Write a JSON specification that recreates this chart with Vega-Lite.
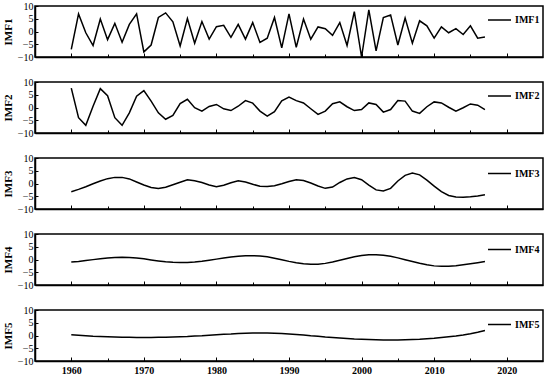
{
  "$schema": "https://vega.github.io/schema/vega-lite/v6.json",
  "padding": {"left": 1, "top": 0, "right": 7, "bottom": 0},
  "autosize": {"type": "pad"},
  "background": "white",
  "bounds": "flush",
  "data": {"values": [
    {"year": 1960, "IMF1": -7.0, "IMF2": 7.6, "IMF3": -3.2, "IMF4": -1.0, "IMF5": 0.3},
    {"year": 1961, "IMF1": 6.9, "IMF2": -4.0, "IMF3": -2.3, "IMF4": -0.75, "IMF5": 0.1},
    {"year": 1962, "IMF1": -0.5, "IMF2": -7.0, "IMF3": -1.3, "IMF4": -0.4, "IMF5": -0.1},
    {"year": 1963, "IMF1": -5.5, "IMF2": 0.5, "IMF3": -0.1, "IMF4": -0.05, "IMF5": -0.3},
    {"year": 1964, "IMF1": 4.9, "IMF2": 7.4, "IMF3": 1.0, "IMF4": 0.3, "IMF5": -0.4},
    {"year": 1965, "IMF1": -3.2, "IMF2": 4.6, "IMF3": 1.9, "IMF4": 0.6, "IMF5": -0.5},
    {"year": 1966, "IMF1": 3.2, "IMF2": -4.0, "IMF3": 2.4, "IMF4": 0.82, "IMF5": -0.6},
    {"year": 1967, "IMF1": -4.2, "IMF2": -7.0, "IMF3": 2.4, "IMF4": 0.9, "IMF5": -0.7},
    {"year": 1968, "IMF1": 2.8, "IMF2": -2.1, "IMF3": 1.8, "IMF4": 0.82, "IMF5": -0.7},
    {"year": 1969, "IMF1": 6.9, "IMF2": 4.4, "IMF3": 0.6, "IMF4": 0.59, "IMF5": -0.8},
    {"year": 1970, "IMF1": -8.0, "IMF2": 6.6, "IMF3": -0.6, "IMF4": 0.25, "IMF5": -0.8},
    {"year": 1971, "IMF1": -5.3, "IMF2": 2.5, "IMF3": -1.6, "IMF4": -0.15, "IMF5": -0.8},
    {"year": 1972, "IMF1": 5.5, "IMF2": -2.1, "IMF3": -2.0, "IMF4": -0.55, "IMF5": -0.7},
    {"year": 1973, "IMF1": 7.3, "IMF2": -4.6, "IMF3": -1.5, "IMF4": -0.89, "IMF5": -0.7},
    {"year": 1974, "IMF1": 3.8, "IMF2": -3.1, "IMF3": -0.5, "IMF4": -1.12, "IMF5": -0.6},
    {"year": 1975, "IMF1": -5.7, "IMF2": 1.5, "IMF3": 0.5, "IMF4": -1.2, "IMF5": -0.5},
    {"year": 1976, "IMF1": 5.1, "IMF2": 3.2, "IMF3": 1.5, "IMF4": -1.13, "IMF5": -0.4},
    {"year": 1977, "IMF1": -4.6, "IMF2": -0.1, "IMF3": 1.1, "IMF4": -0.94, "IMF5": -0.2},
    {"year": 1978, "IMF1": 3.9, "IMF2": -1.4, "IMF3": 0.4, "IMF4": -0.64, "IMF5": -0.1},
    {"year": 1979, "IMF1": -3.0, "IMF2": 0.4, "IMF3": -0.6, "IMF4": -0.27, "IMF5": 0.1},
    {"year": 1980, "IMF1": 1.9, "IMF2": 1.2, "IMF3": -1.3, "IMF4": 0.15, "IMF5": 0.3},
    {"year": 1981, "IMF1": 2.4, "IMF2": -0.5, "IMF3": -0.7, "IMF4": 0.57, "IMF5": 0.5},
    {"year": 1982, "IMF1": -2.3, "IMF2": -1.2, "IMF3": 0.3, "IMF4": 0.94, "IMF5": 0.6},
    {"year": 1983, "IMF1": 2.8, "IMF2": 0.5, "IMF3": 1.1, "IMF4": 1.24, "IMF5": 0.8},
    {"year": 1984, "IMF1": -3.0, "IMF2": 2.7, "IMF3": 0.6, "IMF4": 1.43, "IMF5": 0.9},
    {"year": 1985, "IMF1": 3.5, "IMF2": 1.7, "IMF3": -0.3, "IMF4": 1.5, "IMF5": 1.0},
    {"year": 1986, "IMF1": -4.3, "IMF2": -1.4, "IMF3": -1.1, "IMF4": 1.38, "IMF5": 1.0},
    {"year": 1987, "IMF1": -2.6, "IMF2": -3.4, "IMF3": -1.2, "IMF4": 1.04, "IMF5": 1.0},
    {"year": 1988, "IMF1": 5.5, "IMF2": -1.6, "IMF3": -0.9, "IMF4": 0.52, "IMF5": 0.9},
    {"year": 1989, "IMF1": -6.4, "IMF2": 2.6, "IMF3": -0.1, "IMF4": -0.1, "IMF5": 0.8},
    {"year": 1990, "IMF1": 6.9, "IMF2": 4.1, "IMF3": 0.8, "IMF4": -0.74, "IMF5": 0.6},
    {"year": 1991, "IMF1": -6.2, "IMF2": 2.7, "IMF3": 1.5, "IMF4": -1.3, "IMF5": 0.4},
    {"year": 1992, "IMF1": 4.9, "IMF2": 1.8, "IMF3": 1.2, "IMF4": -1.7, "IMF5": 0.2},
    {"year": 1993, "IMF1": -3.0, "IMF2": -0.5, "IMF3": 0.2, "IMF4": -1.89, "IMF5": -0.1},
    {"year": 1994, "IMF1": 1.8, "IMF2": -2.7, "IMF3": -1.0, "IMF4": -1.83, "IMF5": -0.3},
    {"year": 1995, "IMF1": 1.1, "IMF2": -1.4, "IMF3": -1.9, "IMF4": -1.52, "IMF5": -0.6},
    {"year": 1996, "IMF1": -1.5, "IMF2": 1.5, "IMF3": -1.4, "IMF4": -0.99, "IMF5": -0.8},
    {"year": 1997, "IMF1": 3.5, "IMF2": 2.2, "IMF3": 0.4, "IMF4": -0.32, "IMF5": -1.0},
    {"year": 1998, "IMF1": -5.5, "IMF2": 0.3, "IMF3": 1.8, "IMF4": 0.39, "IMF5": -1.2},
    {"year": 1999, "IMF1": 7.8, "IMF2": -1.2, "IMF3": 2.3, "IMF4": 1.05, "IMF5": -1.4},
    {"year": 2000, "IMF1": -10.0, "IMF2": -0.8, "IMF3": 1.5, "IMF4": 1.56, "IMF5": -1.5},
    {"year": 2001, "IMF1": 8.5, "IMF2": 1.8, "IMF3": -0.6, "IMF4": 1.85, "IMF5": -1.6},
    {"year": 2002, "IMF1": -7.6, "IMF2": 1.2, "IMF3": -2.5, "IMF4": 1.88, "IMF5": -1.7},
    {"year": 2003, "IMF1": 5.5, "IMF2": -1.8, "IMF3": -2.9, "IMF4": 1.67, "IMF5": -1.8},
    {"year": 2004, "IMF1": 6.5, "IMF2": -0.8, "IMF3": -1.9, "IMF4": 1.24, "IMF5": -1.8},
    {"year": 2005, "IMF1": -5.3, "IMF2": 2.7, "IMF3": 1.0, "IMF4": 0.64, "IMF5": -1.8},
    {"year": 2006, "IMF1": 5.3, "IMF2": 2.5, "IMF3": 3.2, "IMF4": -0.07, "IMF5": -1.7},
    {"year": 2007, "IMF1": -4.6, "IMF2": -1.4, "IMF3": 4.1, "IMF4": -0.81, "IMF5": -1.6},
    {"year": 2008, "IMF1": 4.2, "IMF2": -2.3, "IMF3": 3.4, "IMF4": -1.51, "IMF5": -1.5},
    {"year": 2009, "IMF1": 2.2, "IMF2": 0.3, "IMF3": 1.3, "IMF4": -2.09, "IMF5": -1.3},
    {"year": 2010, "IMF1": -2.6, "IMF2": 2.2, "IMF3": -1.0, "IMF4": -2.5, "IMF5": -1.1},
    {"year": 2011, "IMF1": 1.8, "IMF2": 1.8, "IMF3": -3.2, "IMF4": -2.69, "IMF5": -0.8},
    {"year": 2012, "IMF1": -0.5, "IMF2": 0.1, "IMF3": -4.7, "IMF4": -2.65, "IMF5": -0.5},
    {"year": 2013, "IMF1": 1.1, "IMF2": -1.4, "IMF3": -5.3, "IMF4": -2.45, "IMF5": -0.2},
    {"year": 2014, "IMF1": -1.2, "IMF2": -0.1, "IMF3": -5.4, "IMF4": -2.1, "IMF5": 0.2},
    {"year": 2015, "IMF1": 2.2, "IMF2": 1.4, "IMF3": -5.2, "IMF4": -1.7, "IMF5": 0.7},
    {"year": 2016, "IMF1": -2.6, "IMF2": 0.9, "IMF3": -4.9, "IMF4": -1.25, "IMF5": 1.3},
    {"year": 2017, "IMF1": -2.2, "IMF2": -0.8, "IMF3": -4.4, "IMF4": -0.8, "IMF5": 2.0}
  ]},
  "spacing": 25,
  "vconcat": [
    {
      "width": 508, "height": 51,
      "mark": {"type": "line", "strokeWidth": 1.5},
      "encoding": {
        "x": {"field": "year", "type": "quantitative", "scale": {"domain": [1955, 2025], "nice": false, "zero": false},
              "axis": {"title": null, "labels": false, "values": [1960, 1965, 1970, 1975, 1980, 1985, 1990, 1995, 2000, 2005, 2010, 2015, 2020]}},
        "y": {"field": "IMF1", "type": "quantitative", "scale": {"domain": [-10, 10], "nice": false},
              "axis": {"title": "IMF1", "values": [-10, -5, 0, 5, 10], "labelOverlap": false, "labelLineHeight": 8}},
        "color": {"datum": "IMF1", "scale": {"range": ["black"]}, "legend": {"orient": "none", "legendX": 452, "legendY": 1.5}}
      }
    },
    {
      "width": 508, "height": 51,
      "mark": {"type": "line", "strokeWidth": 1.5},
      "encoding": {
        "x": {"field": "year", "type": "quantitative", "scale": {"domain": [1955, 2025], "nice": false, "zero": false},
              "axis": {"title": null, "labels": false, "values": [1960, 1965, 1970, 1975, 1980, 1985, 1990, 1995, 2000, 2005, 2010, 2015, 2020]}},
        "y": {"field": "IMF2", "type": "quantitative", "scale": {"domain": [-10, 10], "nice": false},
              "axis": {"title": "IMF2", "values": [-10, -5, 0, 5, 10], "labelOverlap": false, "labelLineHeight": 8}},
        "color": {"datum": "IMF2", "scale": {"range": ["black"]}, "legend": {"orient": "none", "legendX": 452, "legendY": 1.5}}
      }
    },
    {
      "width": 508, "height": 51,
      "mark": {"type": "line", "strokeWidth": 1.5},
      "encoding": {
        "x": {"field": "year", "type": "quantitative", "scale": {"domain": [1955, 2025], "nice": false, "zero": false},
              "axis": {"title": null, "labels": false, "values": [1960, 1965, 1970, 1975, 1980, 1985, 1990, 1995, 2000, 2005, 2010, 2015, 2020]}},
        "y": {"field": "IMF3", "type": "quantitative", "scale": {"domain": [-10, 10], "nice": false},
              "axis": {"title": "IMF3", "values": [-10, -5, 0, 5, 10], "labelOverlap": false, "labelLineHeight": 8}},
        "color": {"datum": "IMF3", "scale": {"range": ["black"]}, "legend": {"orient": "none", "legendX": 452, "legendY": 3}}
      }
    },
    {
      "width": 508, "height": 51,
      "mark": {"type": "line", "strokeWidth": 1.5},
      "encoding": {
        "x": {"field": "year", "type": "quantitative", "scale": {"domain": [1955, 2025], "nice": false, "zero": false},
              "axis": {"title": null, "labels": false, "values": [1960, 1965, 1970, 1975, 1980, 1985, 1990, 1995, 2000, 2005, 2010, 2015, 2020]}},
        "y": {"field": "IMF4", "type": "quantitative", "scale": {"domain": [-10, 10], "nice": false},
              "axis": {"title": "IMF4", "values": [-10, -5, 0, 5, 10], "labelOverlap": false, "labelLineHeight": 8}},
        "color": {"datum": "IMF4", "scale": {"range": ["black"]}, "legend": {"orient": "none", "legendX": 452, "legendY": 3}}
      }
    },
    {
      "width": 508, "height": 51,
      "mark": {"type": "line", "strokeWidth": 1.5},
      "encoding": {
        "x": {"field": "year", "type": "quantitative", "scale": {"domain": [1955, 2025], "nice": false, "zero": false},
              "axis": {"title": null, "format": "d", "labelOverlap": false, "labelExpr": "datum.value % 10 === 0 ? datum.label : ''",
                       "values": [1960, 1965, 1970, 1975, 1980, 1985, 1990, 1995, 2000, 2005, 2010, 2015, 2020]}},
        "y": {"field": "IMF5", "type": "quantitative", "scale": {"domain": [-10, 10], "nice": false},
              "axis": {"title": "IMF5", "values": [-10, -5, 0, 5, 10], "labelOverlap": false, "labelLineHeight": 8}},
        "color": {"datum": "IMF5", "scale": {"range": ["black"]}, "legend": {"orient": "none", "legendX": 452, "legendY": 2}}
      }
    }
  ],
  "resolve": {"scale": {"color": "independent"}, "legend": {"color": "independent"}},
  "config": {
    "view": {"stroke": "black", "strokeWidth": 1.5},
    "axis": {
      "grid": false, "domainColor": "black", "domainWidth": 1.5, "tickColor": "black", "tickWidth": 1,
      "labelColor": "black", "titleColor": "black", "labelFont": "Liberation Serif", "titleFont": "Liberation Serif"
    },
    "axisX": {
      "labelFontSize": 10, "labelFontWeight": "bold", "labelPadding": 8,
      "tickSize": {"condition": {"test": "datum.value % 10 === 0", "value": -4}, "value": -3}
    },
    "axisY": {
      "labelFontSize": 10, "labelPadding": 5, "tickSize": -3, "titleFontSize": 11, "titleFontWeight": "bold", "titlePadding": 4
    },
    "legend": {
      "title": null, "padding": 0,
      "symbolType": "stroke", "symbolSize": 529, "symbolStrokeWidth": 1.5, "symbolStrokeColor": "black",
      "labelFont": "Liberation Serif", "labelFontWeight": "bold", "labelFontSize": 10, "labelColor": "black", "labelOffset": 3
    }
  }
}
